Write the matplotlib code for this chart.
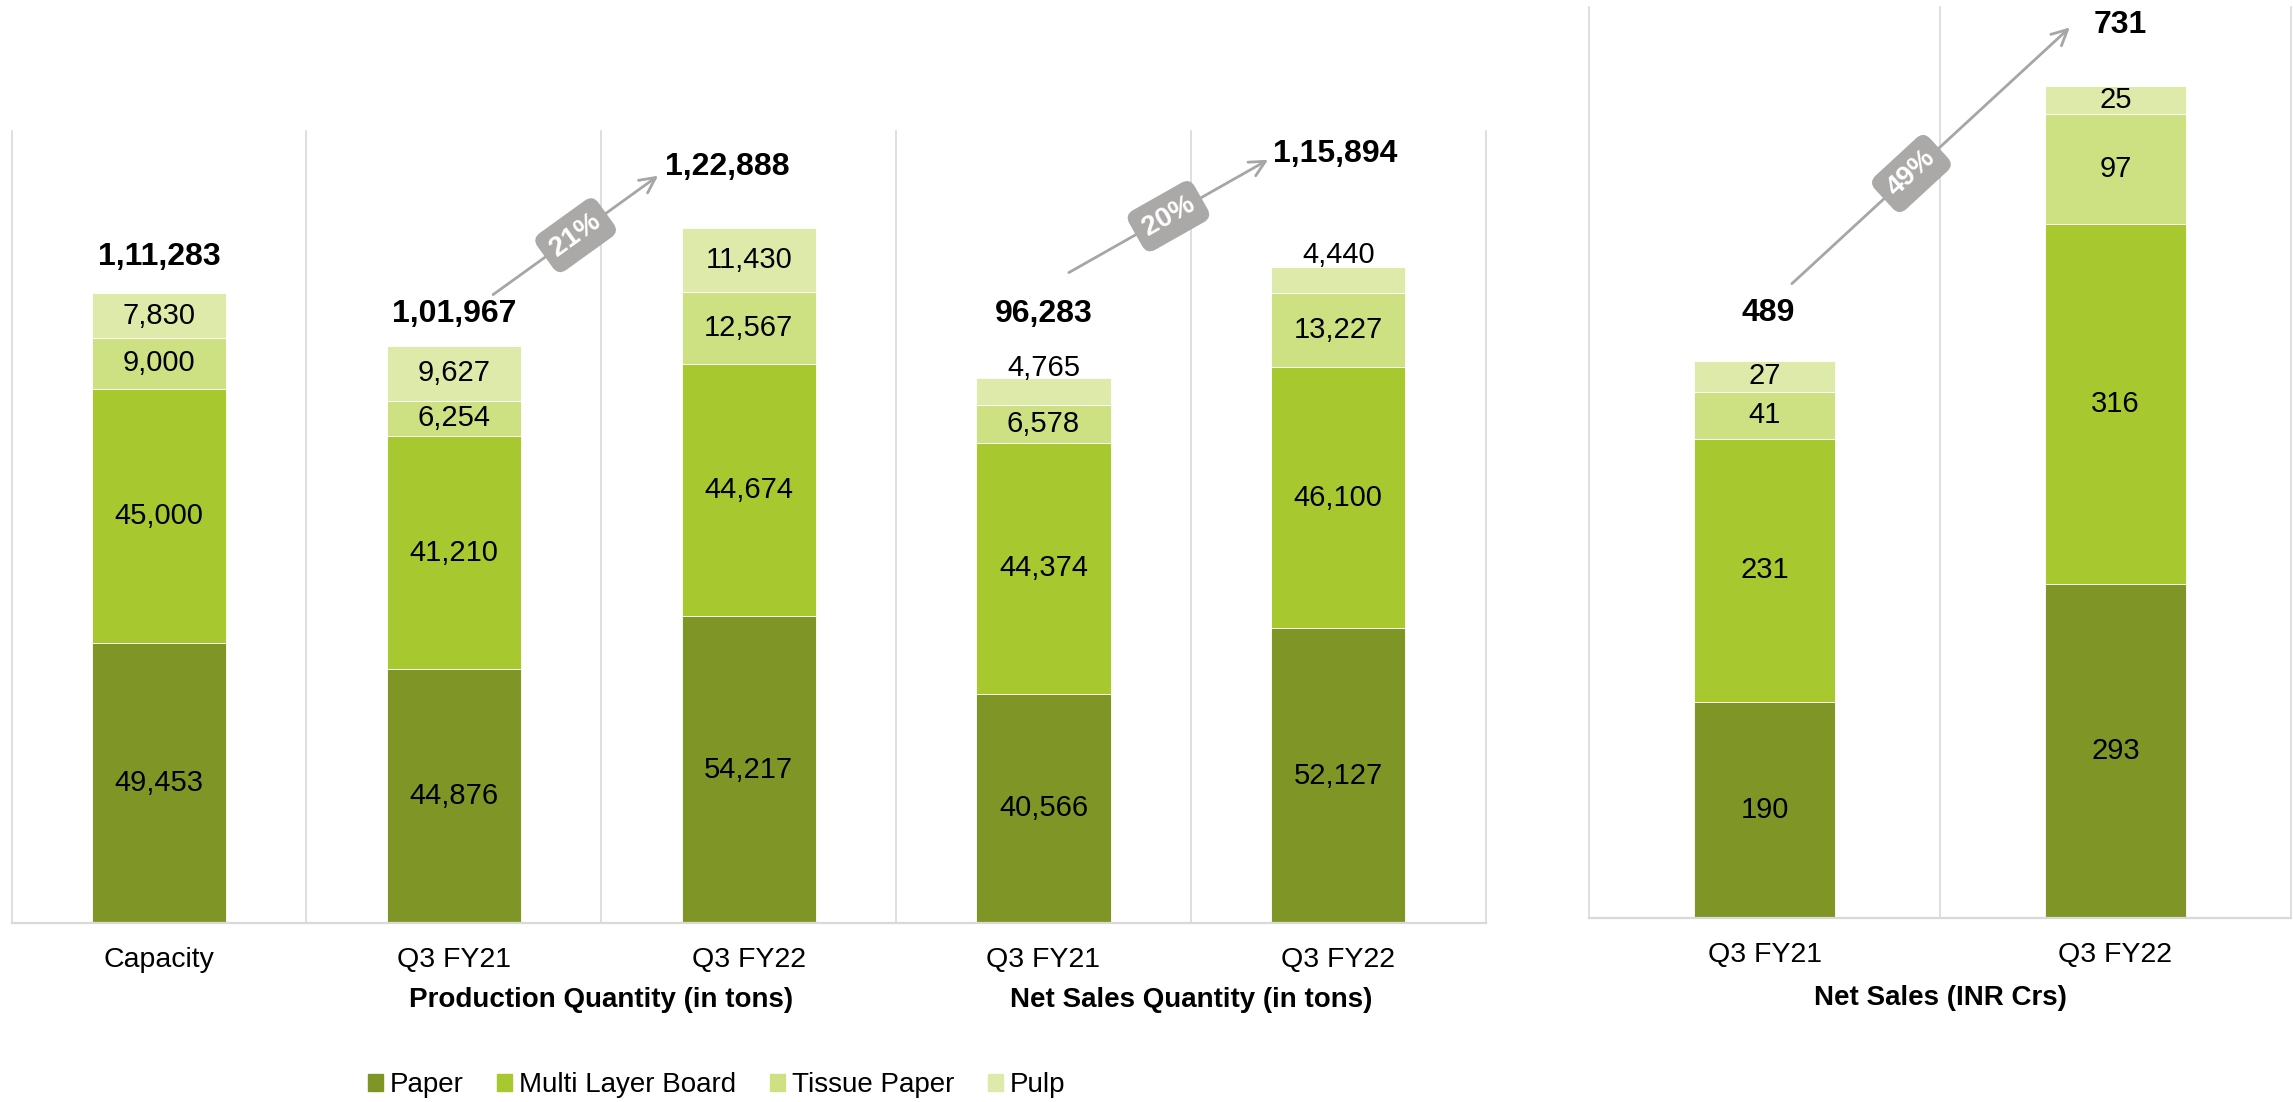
import numpy as np
import matplotlib.pyplot as plt
from matplotlib.patches import Patch

plt.rcParams['font.family'] = ['Liberation Sans', 'DejaVu Sans']

# --- data: production / net sales quantity (tons) ---
cats_qty = ["Capacity", "Q3 FY21", "Q3 FY22", "Q3 FY21", "Q3 FY22"]
paper_qty = [49453, 44876, 54217, 40566, 52127]
mlb_qty = [45000, 41210, 44674, 44374, 46100]
tissue_qty = [9000, 6254, 12567, 6578, 13227]
pulp_qty = [7830, 9627, 11430, 4765, 4440]

# --- data: net sales (INR Crs) ---
cats_sales = ["Q3 FY21", "Q3 FY22"]
paper_sales = [190, 293]
mlb_sales = [231, 316]
tissue_sales = [41, 97]
pulp_sales = [27, 25]

growth_qty = ["21%", "20%"]
growth_sales = ["49%"]

series_names = ["Paper", "Multi Layer Board", "Tissue Paper", "Pulp"]
colors = ["#7F9626", "#A8C830", "#CEE182", "#DDEAAA"]
grid_c = "#D9D9D9"
arrow_c = "#A6A6A6"
box_c = "#ABA9A8"


def indian(n):
    s = str(int(n))
    if len(s) <= 3:
        return s
    head, tail = s[:-3], s[-3:]
    parts = []
    while len(head) > 2:
        parts.insert(0, head[-2:])
        head = head[:-2]
    if head:
        parts.insert(0, head)
    return ",".join(parts + [tail])


def stacked(ax, cats, stacks, width, tot_dy, tot_dx, pulp_out=()):
    x = np.arange(len(cats))
    bottom = np.zeros(len(cats))
    for k, vals in enumerate(stacks):
        vals = np.array(vals, dtype=float)
        ax.bar(x, vals, width, bottom=bottom, color=colors[k],
               edgecolor="white", linewidth=0.6, zorder=2)
        for i, v in enumerate(vals):
            if k == 3 and i in pulp_out:
                y = bottom[i] + v + pulp_out[i]
            else:
                y = bottom[i] + v / 2
            ax.text(x[i], y, indian(v), ha="center", va="center",
                    fontsize=21, color="black", zorder=3)
        bottom += vals
    for i, t in enumerate(bottom):
        ax.text(x[i] + tot_dx[i], t + tot_dy[i], indian(t), ha="center",
                va="center", fontsize=23, fontweight="bold", zorder=3)
    ax.set_xlim(-0.5, len(cats) - 0.5)
    for b in np.arange(len(cats) + 1) - 0.5:
        ax.axvline(b, color=grid_c, lw=1.2, zorder=1, clip_on=False)
    ax.set_xticks(x)
    ax.set_xticklabels(cats, fontsize=20.5)
    ax.tick_params(axis="x", length=0, pad=17)
    ax.set_yticks([])
    for sp in ["left", "right", "top"]:
        ax.spines[sp].set_visible(False)
    ax.spines["bottom"].set_color(grid_c)
    ax.spines["bottom"].set_linewidth(1.6)
    return bottom


def growth_arrow(ax, p0, p1, t, label):
    ax.annotate("", xy=p1, xytext=p0, annotation_clip=False,
                arrowprops=dict(arrowstyle="->", color=arrow_c, lw=2,
                                mutation_scale=28, shrinkA=0, shrinkB=0),
                zorder=4)
    d0 = ax.transData.transform(p0)
    d1 = ax.transData.transform(p1)
    ang = np.degrees(np.arctan2(d1[1] - d0[1], d1[0] - d0[0]))
    bx = p0[0] + t * (p1[0] - p0[0])
    by = p0[1] + t * (p1[1] - p0[1])
    ax.text(bx, by, label, rotation=ang, rotation_mode="anchor",
            ha="center", va="center", fontsize=20, fontweight="bold",
            color="white", zorder=5, clip_on=False,
            bbox=dict(boxstyle="round,pad=0.35,rounding_size=0.35",
                      fc=box_c, ec="none"))


fig = plt.figure(figsize=(22.93, 11.02), dpi=100)
ax1 = fig.add_axes([0.0051, 0.1624, 0.6428, 0.7187])
ax2 = fig.add_axes([0.693, 0.167, 0.3061, 0.8267])

ax1.set_ylim(0, 140000)
ax2.set_ylim(0, 800)

stacked(ax1, cats_qty, [paper_qty, mlb_qty, tissue_qty, pulp_qty], 0.455,
        tot_dy=[6500, 5760, 10800, 11450, 20100],
        tot_dx=[0, 0, -0.073, 0, -0.01],
        pulp_out={3: 1900, 4: 2250})
stacked(ax2, cats_sales, [paper_sales, mlb_sales, tissue_sales, pulp_sales], 0.40,
        tot_dy=[42, 53], tot_dx=[0.01, 0.013])

growth_arrow(ax1, (1.133, 111080), (1.693, 132100), 0.5, growth_qty[0])
growth_arrow(ax1, (3.086, 114970), (3.762, 134920), 0.5, growth_qty[1])
growth_arrow(ax2, (0.078, 557), (0.870, 782), 0.43, growth_sales[0])

ax1.text(1.5, -0.097, "Production Quantity (in tons)", transform=ax1.get_xaxis_transform(),
         ha="center", va="center", fontsize=20, fontweight="bold")
ax1.text(3.5, -0.097, "Net Sales Quantity (in tons)", transform=ax1.get_xaxis_transform(),
         ha="center", va="center", fontsize=20, fontweight="bold")
ax2.text(0.5, -0.088, "Net Sales (INR Crs)", transform=ax2.get_xaxis_transform(),
         ha="center", va="center", fontsize=20, fontweight="bold")

handles = [Patch(color=c, label=n) for c, n in zip(colors, series_names)]
fig.legend(handles=handles, loc="center", bbox_to_anchor=(0.3125, 0.0154), ncol=4,
           frameon=False, fontsize=20, handlelength=0.55, handleheight=0.55,
           handletextpad=0.25, columnspacing=1.2)

fig.savefig("out.png", dpi=100)
